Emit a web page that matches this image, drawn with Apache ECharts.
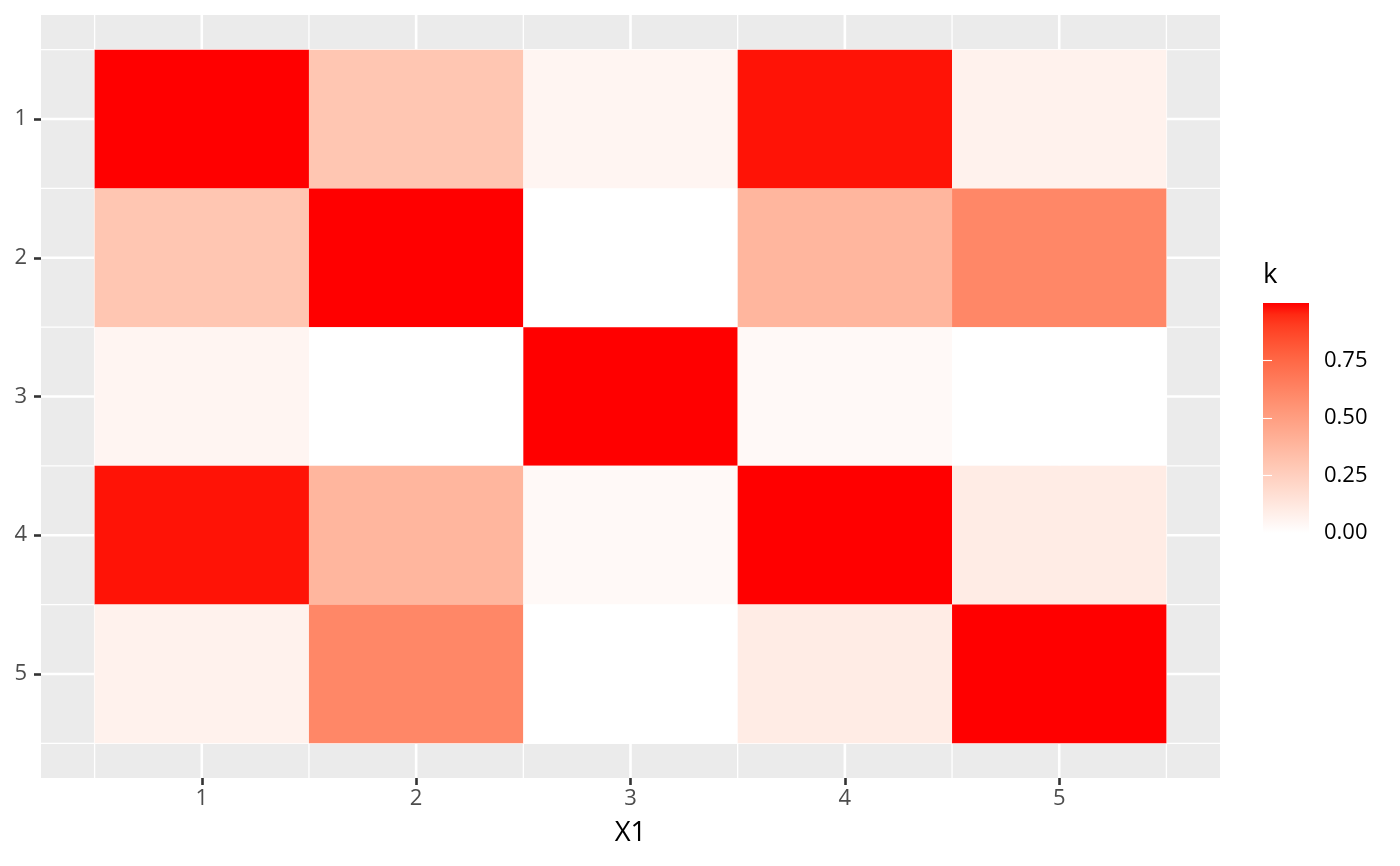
<!DOCTYPE html>
<html>
<head>
<meta charset="utf-8">
<title>k heatmap</title>
<script src="https://cdn.jsdelivr.net/npm/echarts@6.0.0/dist/echarts.min.js"></script>
<style>
  html, body { margin: 0; padding: 0; background: #fff; }
  #chart { width: 1400px; height: 866px; }
</style>
</head>
<body>
<div id="chart"></div>
<script>
// Data
const xCats = [1, 2, 3, 4, 5];
const yCats = [1, 2, 3, 4, 5];
const kValues = [
    [1.00, 0.30, 0.05, 0.985, 0.07],
    [0.30, 1.00, 0.00, 0.38, 0.61],
    [0.05, 0.00, 1.00, 0.03, 0.00],
    [0.985, 0.38, 0.03, 1.00, 0.10],
    [0.07, 0.61, 0.00, 0.10, 1.00]
];
const majorBreaks = [1, 2, 3, 4, 5];
const minorBreaks = [0.5, 1.5, 2.5, 3.5, 4.5, 5.5];
const axisRange = [0.25, 5.75];
const legendBreaks = [0, 0.25, 0.5, 0.75];
const legendRange = [0, 1];

const FONT = '"Open Sans", "Noto Sans", sans-serif';

// Lab interpolation white -> red (like scales::seq_gradient_pal)
function toLinear(c) {
    c /= 255;
    return c <= 0.04045 ? c / 12.92 : Math.pow((c + 0.055) / 1.055, 2.4);
}
function fromLinear(c) {
    let v = c <= 0.0031308 ? 12.92 * c : 1.055 * Math.pow(c, 1 / 2.4) - 0.055;
    return Math.round(Math.min(1, Math.max(0, v)) * 255);
}
function rgbToLab(rgb) {
    const r = toLinear(rgb[0]), g = toLinear(rgb[1]), b = toLinear(rgb[2]);
    const X = (0.4124 * r + 0.3576 * g + 0.1805 * b) / 0.95047;
    const Y = (0.2126 * r + 0.7152 * g + 0.0722 * b);
    const Z = (0.0193 * r + 0.1192 * g + 0.9505 * b) / 1.08883;
    const f = t => t > 0.008856 ? Math.cbrt(t) : 7.787 * t + 16 / 116;
    const fx = f(X), fy = f(Y), fz = f(Z);
    return [116 * fy - 16, 500 * (fx - fy), 200 * (fy - fz)];
}
function labToRgb(lab) {
    const fy = (lab[0] + 16) / 116;
    const fx = fy + lab[1] / 500;
    const fz = fy - lab[2] / 200;
    const finv = t => t * t * t > 0.008856 ? t * t * t : (t - 16 / 116) / 7.787;
    const X = 0.95047 * finv(fx), Y = finv(fy), Z = 1.08883 * finv(fz);
    const r = 3.2406 * X - 1.5372 * Y - 0.4986 * Z;
    const g = -0.9689 * X + 1.8758 * Y + 0.0415 * Z;
    const b = 0.0557 * X - 0.2040 * Y + 1.0570 * Z;
    return 'rgb(' + fromLinear(r) + ',' + fromLinear(g) + ',' + fromLinear(b) + ')';
}
const labLow = rgbToLab([255, 255, 255]);
const labHigh = rgbToLab([255, 0, 0]);
function fillColor(v) {
    const t = (v - legendRange[0]) / (legendRange[1] - legendRange[0]);
    return labToRgb([0, 1, 2].map(i => labLow[i] + (labHigh[i] - labLow[i]) * t));
}

// Build series data
const tileData = [];
yCats.forEach((y, i) => {
    xCats.forEach((x, j) => {
        tileData.push([x, y, kValues[i][j]]);
    });
});
const gridLinesX = majorBreaks.map(v => [v, 1]).concat(minorBreaks.map(v => [v, 0]));
const gridLinesY = majorBreaks.map(v => [v, 1]).concat(minorBreaks.map(v => [v, 0]));

const gradientStops = [];
for (let i = 0; i <= 20; i++) {
    gradientStops.push({ offset: i / 20, color: fillColor(legendRange[0] + (legendRange[1] - legendRange[0]) * i / 20) });
}

const MAJOR_W = 2.6;
const MINOR_W = 1.3;

const chart = echarts.init(document.getElementById('chart'));

const option = {
    backgroundColor: '#ffffff',
    animation: false,
    textStyle: { fontFamily: FONT },
    title: {
        text: 'k',
        left: 1263,
        top: 261,
        padding: 0,
        textStyle: { fontFamily: FONT, fontSize: 27.5, fontWeight: 'normal', color: '#000000' }
    },
    grid: [
        { left: 41, top: 15, width: 1179, height: 763, show: true, backgroundColor: '#EBEBEB', borderWidth: 0 },
        { left: 1263, top: 303, width: 46, height: 230, show: false }
    ],
    xAxis: [
        {
            type: 'value', gridIndex: 0, min: axisRange[0], max: axisRange[1],
            axisLine: { show: false },
            splitLine: { show: false },
            axisTick: { show: true, length: 7, lineStyle: { color: '#333333', width: MAJOR_W }, customValues: majorBreaks },
            axisLabel: { customValues: majorBreaks, color: '#4D4D4D', fontSize: 22, margin: 10, fontFamily: FONT },
            name: 'X1', nameLocation: 'middle', nameGap: 41,
            nameTextStyle: { fontSize: 27.5, color: '#000000', fontFamily: FONT }
        },
        { type: 'value', gridIndex: 1, min: 0, max: 1, show: false }
    ],
    yAxis: [
        {
            type: 'value', gridIndex: 0, min: axisRange[0], max: axisRange[1], inverse: true,
            axisLine: { show: false },
            splitLine: { show: false },
            axisTick: { show: true, length: 7, lineStyle: { color: '#333333', width: MAJOR_W }, customValues: majorBreaks },
            axisLabel: { customValues: majorBreaks, color: '#4D4D4D', fontSize: 22, margin: 14, fontFamily: FONT }
        },
        {
            type: 'value', gridIndex: 1, min: legendRange[0], max: legendRange[1], position: 'right', z: 10,
            axisLine: { show: false },
            splitLine: { show: false },
            axisTick: { show: true, inside: true, length: 9, lineStyle: { color: '#ffffff', width: 1.1 }, customValues: legendBreaks },
            axisLabel: {
                customValues: legendBreaks, color: '#000000', fontSize: 22, margin: 15, fontFamily: FONT,
                formatter: v => v.toFixed(2)
            }
        },
        {
            type: 'value', gridIndex: 1, min: legendRange[0], max: legendRange[1], position: 'left', z: 10,
            axisLine: { show: false },
            splitLine: { show: false },
            axisTick: { show: true, inside: true, length: 9, lineStyle: { color: '#ffffff', width: 1.1 }, customValues: legendBreaks },
            axisLabel: { show: false }
        }
    ],
    series: [
        // vertical panel grid lines
        {
            type: 'custom', xAxisIndex: 0, yAxisIndex: 0, z: 1, silent: true,
            data: gridLinesX,
            encode: { x: 0 },
            renderItem: (params, api) => {
                const p0 = api.coord([api.value(0), axisRange[0]]);
                const p1 = api.coord([api.value(0), axisRange[1]]);
                return {
                    type: 'line',
                    shape: { x1: p0[0], y1: p0[1], x2: p1[0], y2: p1[1] },
                    style: { stroke: '#ffffff', lineWidth: api.value(1) ? MAJOR_W : MINOR_W }
                };
            }
        },
        // horizontal panel grid lines
        {
            type: 'custom', xAxisIndex: 0, yAxisIndex: 0, z: 1, silent: true,
            data: gridLinesY,
            encode: { y: 0 },
            renderItem: (params, api) => {
                const p0 = api.coord([axisRange[0], api.value(0)]);
                const p1 = api.coord([axisRange[1], api.value(0)]);
                return {
                    type: 'line',
                    shape: { x1: p0[0], y1: p0[1], x2: p1[0], y2: p1[1] },
                    style: { stroke: '#ffffff', lineWidth: api.value(1) ? MAJOR_W : MINOR_W }
                };
            }
        },
        // tiles
        {
            type: 'custom', xAxisIndex: 0, yAxisIndex: 0, z: 2, silent: true,
            data: tileData,
            encode: { x: 0, y: 1 },
            renderItem: (params, api) => {
                const x = api.value(0), y = api.value(1);
                const p0 = api.coord([x - 0.5, y - 0.5]);
                const p1 = api.coord([x + 0.5, y + 0.5]);
                return {
                    type: 'rect',
                    shape: {
                        x: Math.min(p0[0], p1[0]), y: Math.min(p0[1], p1[1]),
                        width: Math.abs(p1[0] - p0[0]), height: Math.abs(p1[1] - p0[1])
                    },
                    style: { fill: fillColor(api.value(2)), stroke: null }
                };
            }
        },
        // colourbar
        {
            type: 'custom', xAxisIndex: 1, yAxisIndex: 1, z: 2, silent: true,
            data: [[0, legendRange[0], legendRange[1]]],
            renderItem: (params, api) => {
                const p0 = api.coord([0, api.value(1)]);
                const p1 = api.coord([1, api.value(2)]);
                return {
                    type: 'rect',
                    shape: { x: p0[0], y: p1[1], width: p1[0] - p0[0], height: p0[1] - p1[1] },
                    style: {
                        fill: new echarts.graphic.LinearGradient(0, 1, 0, 0, gradientStops)
                    }
                };
            }
        }
    ]
};

chart.setOption(option);
</script>
</body>
</html>
